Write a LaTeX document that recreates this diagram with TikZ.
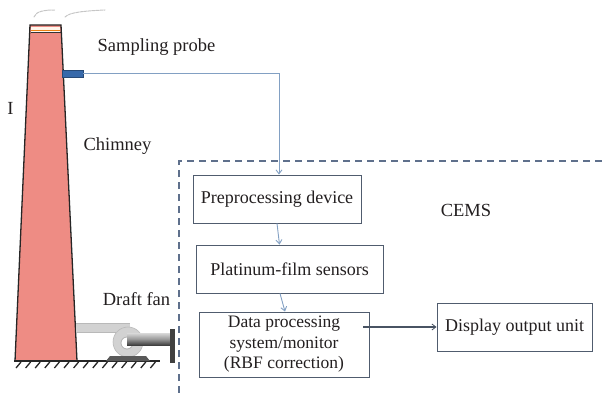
\documentclass[tikz,border=0pt]{standalone}
\usepackage{fontspec}
\setmainfont{Liberation Serif}
\usetikzlibrary{arrows.meta,calc}
\definecolor{stack}{RGB}{238,140,132}
\definecolor{boxline}{RGB}{80,92,110}
\definecolor{flow}{RGB}{130,160,195}
\definecolor{frame}{RGB}{95,112,140}
\definecolor{ink}{RGB}{35,31,32}
\definecolor{probeblue}{RGB}{55,105,170}
\tikzset{
  unit/.style={draw=boxline, line width=0.9pt, fill=white, text=ink,
    inner sep=2pt, align=center, font=\fontsize{18}{21}\selectfont},
  lbl/.style={text=ink, inner sep=0pt, font=\fontsize{18.5}{21}\selectfont},
  flowline/.style={draw=flow, line width=0.9pt, -{Straight Barb[length=4pt,width=6pt]}},
  mainline/.style={draw=boxline!90!black, line width=1.6pt, -{Straight Barb[length=4pt,width=6pt,line width=0.8pt]}},
  hatch/.style={line width=1.3pt, black!85},
}
\begin{document}
\begin{tikzpicture}[x=1pt,y=-1pt]
\useasboundingbox (0,0) rectangle (605,393);

% smoke above the stack
\draw[gray!45, line width=1pt, dash pattern=on 3pt off 1pt, line cap=round]
  (34,17) .. controls (36,11) and (45,10) .. (55,10);
\draw[gray!45, line width=1pt, dash pattern=on 3pt off 1pt, line cap=round]
  (65,17) .. controls (70,12) and (85,11) .. (105,10);

% chimney
\draw[fill=stack, draw=black!85, line width=1.3pt] (30,25) -- (61,25) -- (77,361) -- (15,361) -- cycle;
\fill[white!92!orange] (31,27) rectangle (60,32);
\draw[orange!70!brown, line width=0.8pt] (31,30) -- (60,30);
\draw[black!80, line width=1pt] (30.5,32.5) -- (60.5,32.5);

% sampling probe
\node[draw=probeblue!70!black, fill=probeblue, minimum width=21pt, minimum height=7pt,
      inner sep=0pt] (probe) at (72.5,73.5) {};

% ground with hatching
\draw[black!85, line width=1.5pt] (14,361) -- (160,361);
\foreach \k in {0,...,14}
  \draw[hatch] (16+\k*9.6,368) -- (21+\k*9.6,362);

% draft fan: duct, casing, motor and mounting plate
\fill[gray!35] (76,323) rectangle (130,332);
\draw[gray!55, line width=0.6pt] (76,323) -- (130,323) (76,332) -- (116,332);
\fill[gray!35] (128,342) circle (15);
\draw[gray!55, line width=0.6pt] (128,342) circle (15);
\fill[white] (127,343) circle (6);
\draw[gray!60, line width=0.8pt] (127,343) circle (6);
\fill[gray!70!black] (110,356) -- (146,356) -- (150,361) -- (106,361) -- cycle;
\shade[top color=gray!30, bottom color=black!75, middle color=gray!80] (127,333) rectangle (170,345);
\fill[black!75] (170,329) rectangle (174.5,363);

% CEMS boundary
\draw[frame, line width=1.3pt, dash pattern=on 7pt off 5pt] (179,393) -- (179,161) -- (605,161);

% text labels
\node[lbl] (lprobe) at (156.5,47) {Sampling probe};
\node[lbl] (lI) at (10.5,108) {I};
\node[lbl] (lchim) at (117.5,146) {Chimney};
\node[lbl] (lfan) at (136.5,299) {Draft fan};
\node[lbl] (lcems) at (466,210) {CEMS};

% monitoring chain
\node[unit, minimum width=168pt, minimum height=48pt] (prep) at (277,199) {Preprocessing device};
\node[unit, minimum width=187pt, minimum height=48pt] (plat) at (289.5,269) {Platinum-film sensors};
\node[unit, minimum width=170pt, minimum height=65pt, font=\fontsize{17.5}{20.5}\selectfont]
  (data) at (284,344.5) {Data processing\\system/monitor\\(RBF correction)};
\node[unit, minimum width=155pt, minimum height=48pt] (disp) at (514.5,327) {Display output unit};

% connectors
\draw[flowline] (probe.east) -| ([xshift=2pt]prep.north);
\draw[flowline] (prep.south) -- ([xshift=-10pt]plat.north);
\draw[flowline] ([xshift=-9.5pt]plat.south) -- ([xshift=1pt]data.north);
\draw[mainline] ([xshift=-6pt]disp.west -| data.east) -- (disp.west);
\end{tikzpicture}
\end{document}
